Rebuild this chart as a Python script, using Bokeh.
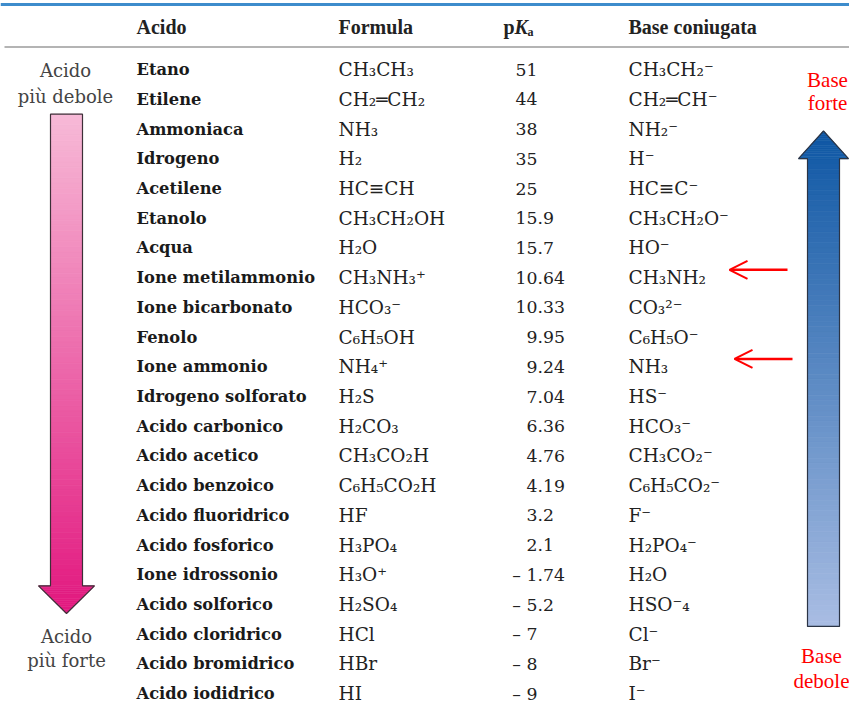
import numpy as np
from bokeh.plotting import figure
from bokeh.models import ColumnDataSource, Range1d, Arrow, OpenHead
from bokeh.core.properties import value
from bokeh.embed import file_html
from bokeh.resources import INLINE

# ---------------- data ----------------
acids = ["Etano", "Etilene", "Ammoniaca", "Idrogeno", "Acetilene", "Etanolo",
         "Acqua", "Ione metilammonio", "Ione bicarbonato", "Fenolo",
         "Ione ammonio", "Idrogeno solforato", "Acido carbonico",
         "Acido acetico", "Acido benzoico", "Acido fluoridrico",
         "Acido fosforico", "Ione idrossonio", "Acido solforico",
         "Acido cloridrico", "Acido bromidrico", "Acido iodidrico"]

formulas = ["CH₃CH₃", "CH₂═CH₂", "NH₃", "H₂", "HC≡CH", "CH₃CH₂OH", "H₂O",
            "CH₃NH₃⁺", "HCO₃⁻", "C₆H₅OH", "NH₄⁺", "H₂S", "H₂CO₃", "CH₃CO₂H",
            "C₆H₅CO₂H", "HF", "H₃PO₄", "H₃O⁺", "H₂SO₄", "HCl", "HBr", "HI"]

pka = ["51", "44", "38", "35", "25", "15.9", "15.7", "10.64", "10.33", "9.95",
       "9.24", "7.04", "6.36", "4.76", "4.19", "3.2", "2.1", "– 1.74",
       "– 5.2", "– 7", "– 8", "– 9"]

bases = ["CH₃CH₂⁻", "CH₂═CH⁻", "NH₂⁻", "H⁻", "HC≡C⁻", "CH₃CH₂O⁻", "HO⁻",
         "CH₃NH₂", "CO₃²⁻", "C₆H₅O⁻", "NH₃", "HS⁻", "HCO₃⁻", "CH₃CO₂⁻",
         "C₆H₅CO₂⁻", "F⁻", "H₂PO₄⁻", "H₂O", "HSO⁻₄", "Cl⁻", "Br⁻", "I⁻"]

headers = ["Acido", "Formula", "Base coniugata"]
highlighted_rows = [7, 10]   # Ione metilammonio, Ione ammonio

# ---------------- layout ----------------
W, H = 849, 705
p = figure(width=W, height=H, x_range=Range1d(0, W), y_range=Range1d(713, 0),
           output_backend="svg", toolbar_location=None, min_border=0)
p.axis.visible = False
p.grid.visible = False
p.outline_line_color = None
p.background_fill_color = "white"
p.border_fill_color = "white"

SERIF = value("DejaVu Serif")
TNR = value("Liberation Serif")
TXT = "#222222"

n = len(acids)
row_y = [70 + i * 30.05 for i in range(n)]

X_NAME, X_FORM, X_PKA_DEC, X_BASE = 136, 338, 537, 628

int_parts, frac_parts = [], []
for s in pka:
    if "." in s:
        a, b = s.split(".")
        int_parts.append(a)
        frac_parts.append("." + b)
    else:
        int_parts.append(s)
        frac_parts.append("")

src = ColumnDataSource(dict(y=row_y, acid=acids, formula=formulas,
                            pint=int_parts, pfrac=frac_parts, base=bases,
                            xn=[X_NAME] * n, xf=[X_FORM] * n,
                            xp=[X_PKA_DEC] * n, xb=[X_BASE] * n))

# rules
p.segment(x0=[0], y0=[4], x1=[W], y1=[4], line_color="#3d8ccc", line_width=3)
p.segment(x0=[4], y0=[47], x1=[W], y1=[47], line_color="#b4b4b4", line_width=2)

# header
p.text(x=[X_NAME, X_FORM, X_BASE], y=[27] * 3, text=headers,
       text_font=TNR, text_font_size="20px", text_font_style="bold",
       text_color=TXT, text_baseline="middle", text_align="left")
p.text(x=[503], y=[27], text=["p"], text_font=TNR, text_font_size="20px",
       text_font_style="bold", text_color=TXT, text_baseline="middle")
p.text(x=[514], y=[27], text=["K"], text_font=TNR, text_font_size="20px",
       text_font_style="bold italic", text_color=TXT, text_baseline="middle")
p.text(x=[527], y=[32], text=["a"], text_font=TNR, text_font_size="12px",
       text_font_style="bold", text_color=TXT, text_baseline="middle")

# rows
p.text(x="xn", y="y", text="acid", source=src, text_font=SERIF,
       text_font_size="16.3px", text_font_style="bold", text_color="#1a1a1a",
       text_baseline="middle", text_align="left")
p.text(x="xf", y="y", text="formula", source=src, text_font=SERIF,
       text_font_size="18.5px", text_color=TXT, text_baseline="middle",
       text_align="left")
p.text(x="xp", y="y", text="pint", source=src, text_font=SERIF,
       text_font_size="17.3px", text_color=TXT, text_baseline="middle",
       text_align="right")
p.text(x="xp", y="y", text="pfrac", source=src, text_font=SERIF,
       text_font_size="17.3px", text_color=TXT, text_baseline="middle",
       text_align="left")
p.text(x="xb", y="y", text="base", source=src, text_font=SERIF,
       text_font_size="18.5px", text_color=TXT, text_baseline="middle",
       text_align="left")


# ---------------- gradient arrows ----------------
def hex2rgb(h):
    h = h.lstrip("#")
    return np.array([int(h[i:i + 2], 16) for i in (0, 2, 4)], dtype=float)


def mix(c0, c1, t):
    c = hex2rgb(c0) * (1 - t) + hex2rgb(c1) * t
    return "#%02x%02x%02x" % tuple(int(round(v)) for v in c)


def gradient_arrow(cx, shaft_hw, head_hw, y_tail, y_neck, y_tip,
                   c_top, c_bot, outline):
    ytop, ybot = min(y_tail, y_tip), max(y_tail, y_tip)

    def col(y):
        return mix(c_top, c_bot, (y - ytop) / (ybot - ytop))

    # shaft stripes
    ys = np.linspace(min(y_tail, y_neck), max(y_tail, y_neck), 90)
    l, r, t, b, cs = [], [], [], [], []
    for a, c in zip(ys[:-1], ys[1:]):
        l.append(cx - shaft_hw); r.append(cx + shaft_hw)
        t.append(a); b.append(c); cs.append(col((a + c) / 2))
    p.quad(left=l, right=r, top=t, bottom=b, fill_color=cs, line_color=cs,
           line_width=0.8)
    # head stripes
    ys = np.linspace(y_neck, y_tip, 16)
    xs_l, ys_l, cs = [], [], []
    for a, c in zip(ys[:-1], ys[1:]):
        wa = head_hw * (y_tip - a) / (y_tip - y_neck)
        wc = head_hw * (y_tip - c) / (y_tip - y_neck)
        xs_l.append([cx - wa, cx + wa, cx + wc, cx - wc])
        ys_l.append([a, a, c, c])
        cs.append(col((a + c) / 2))
    p.patches(xs=xs_l, ys=ys_l, fill_color=cs, line_color=cs, line_width=0.6)
    # outline
    ox = [cx - shaft_hw, cx + shaft_hw, cx + shaft_hw, cx + head_hw, cx,
          cx - head_hw, cx - shaft_hw, cx - shaft_hw]
    oy = [y_tail, y_tail, y_neck, y_neck, y_tip, y_neck, y_neck, y_tail]
    p.patch(x=ox, y=oy, fill_alpha=0, line_color=outline, line_width=1.2)


# pink arrow (acid strength, pointing down)
gradient_arrow(66, 16, 28, 115, 592, 620, "#f7bad7", "#e2187f", "#3d3038")
# blue arrow (base strength, pointing up)
gradient_arrow(823, 16, 25, 633, 160, 132, "#0e57a4", "#a9bde3", "#2b3445")

# side labels
p.text(x=[65, 65], y=[71, 97], text=["Acido", "più debole"], text_font=SERIF,
       text_font_size="18px", text_color="#444444", text_align="center",
       text_baseline="middle")
p.text(x=[66, 66], y=[643, 667], text=["Acido", "più forte"], text_font=SERIF,
       text_font_size="18px", text_color="#444444", text_align="center",
       text_baseline="middle")
p.text(x=[827, 827], y=[80, 104], text=["Base", "forte"], text_font=TNR,
       text_font_size="21px", text_color="#ff0000", text_align="center",
       text_baseline="middle")
p.text(x=[821, 821], y=[663, 688], text=["Base", "debole"], text_font=TNR,
       text_font_size="21px", text_color="#ff0000", text_align="center",
       text_baseline="middle")

# red pointer arrows
arrow_x = [(729, 787), (734, 792)]
for row, (xe, xs) in zip(highlighted_rows, arrow_x):
    yy = row_y[row] - 8
    p.add_layout(Arrow(end=OpenHead(line_color="#ff0000", line_width=2, size=18),
                       x_start=xs, y_start=yy, x_end=xe, y_end=yy,
                       line_color="#ff0000", line_width=2.5))

open("out.html", "w").write(file_html(p, INLINE))
